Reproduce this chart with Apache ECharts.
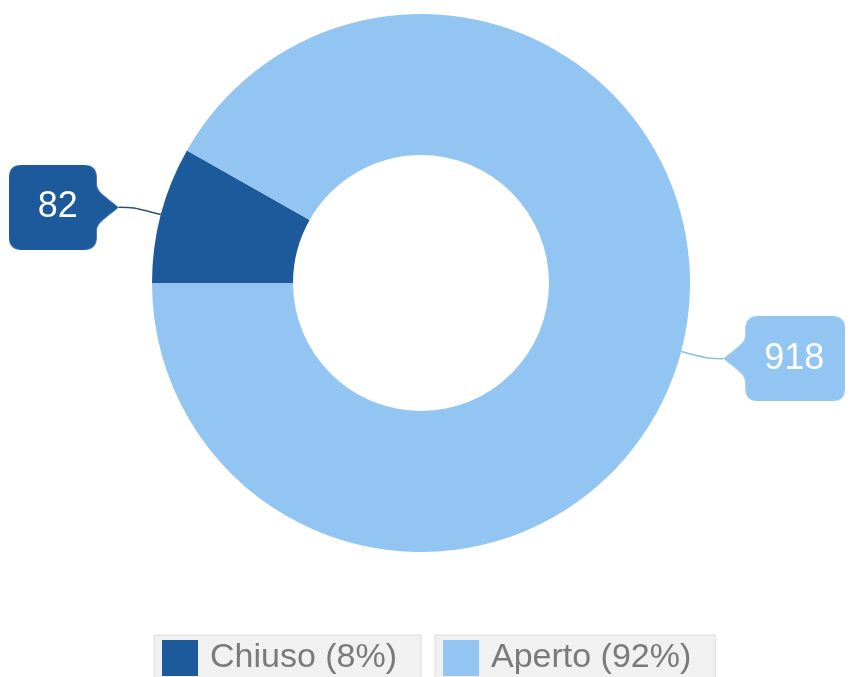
<!DOCTYPE html>
<html>
<head>
<meta charset="utf-8">
<script src="https://cdn.jsdelivr.net/npm/echarts@6/dist/echarts.min.js"></script>
<style>
  html, body { margin: 0; padding: 0; background: #ffffff; }
  #chart { width: 850px; height: 677px; }
</style>
</head>
<body>
<div id="chart"></div>
<script>
// Stato delle pratiche
const categories = ['Chiuso', 'Aperto'];
const values = [82, 918];
const sliceColors = ['#1c5a9b', '#92c5f2'];
const guideColors = ['#34506e', '#8fbde6'];
const legendLeft = [154, 435];

const FONT = '"Liberation Sans", Arial, sans-serif';
const LABEL_SIZE = 36;
const LINE_H = 37;
const PAD_V = 24;
const PAD_H = 19;
const TIP = 22;
const MIN_TEXT_W = 50;
const START_ANGLE = 180;

const total = values.reduce((a, b) => a + b, 0);

function measure(text, size) {
  const ctx = document.createElement('canvas').getContext('2d');
  ctx.font = size + 'px ' + FONT;
  return Math.max(MIN_TEXT_W, Math.ceil(ctx.measureText(text).width) + 1);
}

// Callout bubble: rounded body with a pointer on the side facing the ring
function bubble(w, h, color, tipSide) {
  const c = document.createElement('canvas');
  c.width = w;
  c.height = h;
  const g = c.getContext('2d');
  g.fillStyle = color;
  const r = 13;
  const bx0 = tipSide === 'left' ? TIP : 0;
  const bx1 = tipSide === 'left' ? w : w - TIP;
  const my = h / 2;
  g.beginPath();
  g.moveTo(bx0 + r, 0);
  g.lineTo(bx1 - r, 0);
  g.quadraticCurveTo(bx1, 0, bx1, r);
  if (tipSide === 'right') {
    g.lineTo(bx1, my - 24);
    g.bezierCurveTo(bx1, my - 16, bx1 + 6, my - 13, w, my);
    g.bezierCurveTo(bx1 + 6, my + 13, bx1, my + 16, bx1, my + 24);
  }
  g.lineTo(bx1, h - r);
  g.quadraticCurveTo(bx1, h, bx1 - r, h);
  g.lineTo(bx0 + r, h);
  g.quadraticCurveTo(bx0, h, bx0, h - r);
  if (tipSide === 'left') {
    g.lineTo(bx0, my + 24);
    g.bezierCurveTo(bx0, my + 16, bx0 - 6, my + 13, 0, my);
    g.bezierCurveTo(bx0 - 6, my - 13, bx0, my - 16, bx0, my - 24);
  }
  g.lineTo(bx0, r);
  g.quadraticCurveTo(bx0, 0, bx0 + r, 0);
  g.closePath();
  g.fill();
  return c;
}

let cum = 0;
const pieData = categories.map((name, i) => {
  const mid = (START_ANGLE - (cum + values[i] / 2) / total * 360) * Math.PI / 180;
  cum += values[i];
  const onLeft = Math.cos(mid) < 0;
  const text = String(values[i]);
  const tw = measure(text, LABEL_SIZE);
  const boxW = tw + 2 * PAD_H + TIP;
  const boxH = LINE_H + 2 * PAD_V;
  return {
    name: name,
    value: values[i],
    itemStyle: { color: sliceColors[i] },
    label: {
      width: tw,
      overflow: 'none',
      align: 'center',
      padding: onLeft ? [PAD_V, PAD_H + TIP, PAD_V, PAD_H] : [PAD_V, PAD_H, PAD_V, PAD_H + TIP],
      backgroundColor: { image: bubble(boxW, boxH, sliceColors[i], onLeft ? 'right' : 'left') }
    },
    labelLine: { lineStyle: { color: guideColors[i] } }
  };
});

const chart = echarts.init(document.getElementById('chart'), null, { renderer: 'canvas' });

chart.setOption({
  animation: false,
  backgroundColor: '#ffffff',
  legend: categories.map((name, i) => ({
    data: [{ name: name, icon: 'rect' }],
    left: legendLeft[i],
    top: 635,
    orient: 'horizontal',
    selectedMode: false,
    backgroundColor: '#f1f1f1',
    borderColor: '#dcdcdc',
    borderWidth: 1,
    padding: [5, 24, 5, 8],
    itemWidth: 36,
    itemHeight: 36,
    formatter: n => n + ' (' + Math.round(values[categories.indexOf(n)] / total * 100) + '%)',
    textStyle: {
      fontFamily: FONT,
      fontSize: 34,
      color: '#7a7a7a',
      padding: [0, 0, 0, 7]
    }
  })),
  series: [{
    type: 'pie',
    center: [421, 283],
    radius: [128, 269],
    startAngle: START_ANGLE,
    clockwise: true,
    avoidLabelOverlap: false,
    silent: true,
    label: {
      show: true,
      position: 'outside',
      formatter: '{c}',
      color: '#ffffff',
      fontFamily: FONT,
      fontSize: LABEL_SIZE,
      lineHeight: LINE_H,
      distanceToLabelLine: 0
    },
    labelLine: {
      show: true,
      length: 28,
      length2: 15,
      smooth: 0.3,
      lineStyle: { width: 1.5 }
    },
    data: pieData
  }]
});
</script>
</body>
</html>
